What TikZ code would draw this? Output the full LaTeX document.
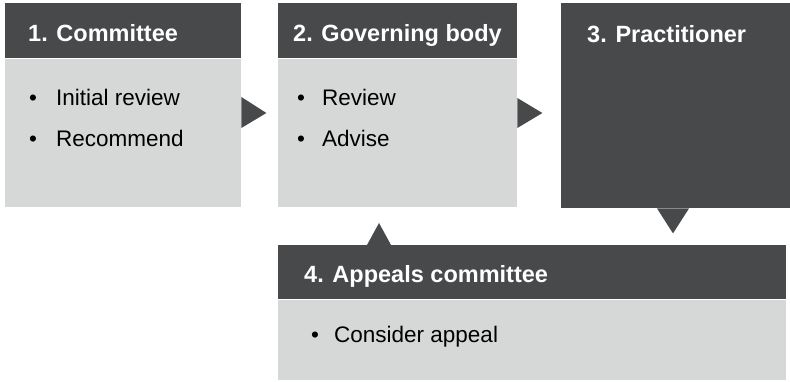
\documentclass[tikz,border=0pt]{standalone}
\usepackage{fontspec}
\setmainfont{Liberation Sans}
\usepackage{tikz}
\usetikzlibrary{positioning, calc}
\definecolor{boxdark}{RGB}{72,73,75}
\definecolor{boxlight}{RGB}{214,216,215}

\begin{document}
\begin{tikzpicture}[x=1pt, y=-1pt,
  head node/.style={fill=boxdark, draw=none, inner sep=0pt, anchor=north west},
  body node/.style={fill=boxlight, draw=none, inner sep=0pt, anchor=north west},
  head text/.style={text=white, font=\fontsize{23.5}{28}\selectfont\bfseries, inner sep=0pt, anchor=base west},
  item text/.style={text=black, font=\fontsize{22.5}{27}\selectfont, inner sep=0pt, anchor=base west},
  item dot/.style={text=black, font=\fontsize{22.5}{27}\selectfont, inner sep=0pt, anchor=base},
  pointer/.style={fill=boxdark, draw=none}]

\useasboundingbox (0,0) rectangle (790,382);

% boxes
\node[head node, minimum width=236pt, minimum height=55pt] (H1) at (5,3) {};
\node[body node, minimum width=236pt, minimum height=148pt] (B1) at (5,59) {};
\node[head node, minimum width=239pt, minimum height=55pt] (H2) at (278,3) {};
\node[body node, minimum width=239pt, minimum height=148pt] (B2) at (278,59) {};
\node[head node, minimum width=229pt, minimum height=205pt] (H3) at (561,3) {};
\node[head node, minimum width=508pt, minimum height=54pt] (H4) at (278,245) {};
\node[body node, minimum width=508pt, minimum height=80pt] (B4) at (278,300) {};

% titles
\node[head text] (T1) at ($(H1.north west)+(23,39)$) {1. Committee};
\node[head text] (T2) at ($(H2.north west)+(15,39)$) {2. Governing body};
\node[head text] (T3) at ($(H3.north west)+(26,40)$) {3. Practitioner};
\node[head text] (T4) at ($(H4.north west)+(26,38)$) {4. Appeals committee};

% items
\node[item dot] (D11) at ($(B1.north west)+(28,47)$) {•};
\node[item text] (I11) at ($(B1.north west)+(51,47)$) {Initial review};
\node[item dot] (D12) at ($(B1.north west)+(28,88)$) {•};
\node[item text] (I12) at ($(B1.north west)+(51,88)$) {Recommend};
\node[item dot] (D21) at ($(B2.north west)+(23,47)$) {•};
\node[item text] (I21) at ($(B2.north west)+(44,47)$) {Review};
\node[item dot] (D22) at ($(B2.north west)+(23,88)$) {•};
\node[item text] (I22) at ($(B2.north west)+(44,88)$) {Advise};
\node[item dot] (D41) at ($(B4.north west)+(37,42)$) {•};
\node[item text] (I41) at ($(B4.north west)+(56,42)$) {Consider appeal};

% pointers
\fill[pointer] ($(B1.north east)+(0,38)$) -- ($(B1.north east)+(0,69)$)
  -- ($(B1.north east)+(25,54)$) -- cycle;
\fill[pointer] ($(B2.north east)+(0,39)$) -- ($(B2.north east)+(0,69)$)
  -- ($(B2.north east)+(25,54)$) -- cycle;
\fill[pointer] ($(H3.south west)+(96,0)$) -- ($(H3.south west)+(128,0)$)
  -- ($(H3.south west)+(112,25)$) -- cycle;
\fill[pointer] ($(H4.north west)+(89,0)$) -- ($(H4.north west)+(113,0)$)
  -- ($(H4.north west)+(101,-22)$) -- cycle;

\end{tikzpicture}
\end{document}
